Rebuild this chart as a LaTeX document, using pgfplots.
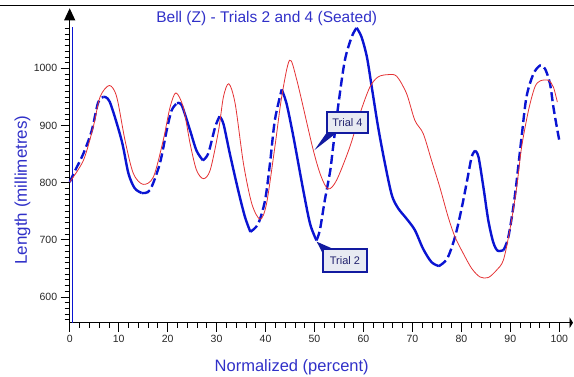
\documentclass[border=0pt]{standalone}
\usepackage{fontspec}
\setmainfont{Liberation Sans}
\usepackage{pgfplots}
\pgfplotsset{compat=1.18}
\usetikzlibrary{arrows.meta}
\definecolor{tblue}{RGB}{10,20,210}
\definecolor{tred}{RGB}{228,50,52}
\definecolor{labblue}{RGB}{48,48,200}
\definecolor{boxblue}{RGB}{18,26,160}
\definecolor{boxfill}{RGB}{232,234,242}
\definecolor{boxtext}{RGB}{34,34,110}
\begin{document}
\begin{tikzpicture}
\path[use as bounding box] (-69.7pt,-54.3pt) rectangle (504.3pt,322.7pt);
\draw[black, line width=0.8pt] (-69.7pt,317.7pt) -- (504.3pt,317.7pt);
\begin{axis}[
  scale only axis, width=503.3pt, height=314.4pt,
  at={(0pt,0pt)}, anchor=south west,
  xmin=0, xmax=102.8, ymin=555, ymax=1105,
  enlargelimits=false, clip=false,
  axis lines=left,
  x axis line style={black, line width=1pt, -{Triangle[width=11pt,length=3.5pt]}},
  y axis line style={black, line width=1pt, -{Triangle[width=11pt,length=12pt]}},
  xtick={0,10,...,100},
  minor xtick={2,4,6,8,12,14,16,18,22,24,26,28,32,34,36,38,42,44,46,48,52,54,56,58,62,64,66,68,72,74,76,78,82,84,86,88,92,94,96,98},
  ytick={600,700,800,900,1000},
  minor ytick={560,570,...,1070},
  tick align=outside,
  major tick length=9pt, minor tick length=5pt,
  tick style={black, line width=0.7pt},
  /pgf/number format/assume math mode=true,
  /pgf/number format/set thousands separator={},
  tick label style={font=\fontsize{10.5}{12}\selectfont, text=black!85},
]
% blue vertical line next to the axis
\addplot[tblue, line width=0.8pt] coordinates {(0.6,555) (0.6,1073)};
% Blue curve: rising parts dashed, falling parts solid
\pgfplotsset{bdash/.style={tblue, line width=2.4pt, smooth, dash pattern=on 9pt off 4pt},
             bsolid/.style={tblue, line width=2.4pt, smooth}}
\addplot[bdash] coordinates {(0,801)(1.1,821)(2.8,851)(4.5,891)(5.8,940)(6.9,950)};
\addplot[bsolid] coordinates {(6.9,950)(8.2,941)(10.6,874)(12.0,816)(13.3,790)(14.7,782)};
\addplot[bdash] coordinates {(14.7,782)(16.4,787)(18.4,833)(19.8,891)(20.8,926)(21.9,939)};
\addplot[bsolid] coordinates {(21.9,939)(22.9,935)(24.6,891)(25.9,856)(27.2,839)};
\addplot[bdash] coordinates {(27.2,839)(28.3,851)(29.7,897)(30.6,916)};
\addplot[bsolid] coordinates {(30.6,916)(31.4,903)(32.7,851)(34.4,787)(35.8,740)(36.9,714)};
\addplot[bdash] coordinates {(36.9,714)(38.5,728)(39.9,769)(40.9,833)(41.9,909)(43.3,963)};
\addplot[bsolid] coordinates {(43.3,963)(44.3,938)(45.7,880)(47.7,787)(49.1,728)(50.4,699)};
\addplot[bdash] coordinates {(50.4,699)(51.1,717)(52.1,769)(53.2,820)(53.7,855)(54.9,938)(56.2,1014)(57.6,1055)(58.6,1071)};
\addplot[bsolid] coordinates {(58.6,1071)(59.6,1055)(60.7,1020)(61.7,967)(63.0,897)(64.4,833)(65.8,778)(67.1,755)(68.8,737)(70.5,717)(72.2,684)(73.9,661)(75.4,654)};
\addplot[bdash] coordinates {(75.4,654)(77.1,667)(78.7,705)(80.1,757)(81.2,805)(82.1,845)(82.8,856)};
\addplot[bsolid] coordinates {(82.8,856)(83.5,845)(84.5,792)(85.5,734)(86.5,696)(87.4,681)(88.6,682)};
\addplot[bdash] coordinates {(88.6,682)(89.6,705)(90.9,775)(92.3,880)(93.3,950)(94.7,990)(96.1,1005)(97.1,999)(98.1,973)(98.8,932)(99.5,897)(100,874)};
% Red curve
\addplot[tred, line width=0.8pt, smooth] coordinates {
(0,801)(2.8,839)(4.8,897)(6.2,950)(8.1,970)(9.6,950)(11.3,874)(13.0,816)(15.0,797)
(17.1,810)(19.1,874)(20.5,932)(21.7,957)(23.2,932)(24.6,868)(25.9,822)(27.3,807)
(28.7,822)(30.4,891)(31.4,950)(32.5,973)(33.8,938)(35.5,833)(37.2,763)(38.9,736)
(40.2,763)(41.9,862)(43.3,950)(44.9,1014)(46.4,979)(49.6,862)(51.3,812)(52.8,789)
(54.5,804)(57.2,862)(59.3,921)(61.3,967)(63.0,985)(65.1,989)(66.8,986)(68.8,956)
(70.5,909)(72.2,886)(73.9,839)(75.6,792)(77.3,740)(78.7,705)(80.4,676)(82.1,650)
(83.8,635)(85.5,634)(87.2,647)(88.6,665)(90.0,722)(91.3,792)(92.3,862)(93.7,926)
(95.0,967)(96.1,978)(97.8,979)(98.8,967)(99.6,941)};
% callouts
\fill[boxblue] (axis cs:52.4,886.3) -- (axis cs:54.4,886.3) -- (axis cs:50.0,857) -- cycle;
\node[draw=boxblue, line width=2.2pt, fill=boxfill, text=boxtext, font=\fontsize{11}{12}\selectfont,
      minimum width=41.6pt, minimum height=21.6pt, inner sep=0pt] at (axis cs:56.74,905.2) {Trial 4};
\fill[boxblue] (axis cs:50.45,696.7) -- (axis cs:54.0,683.4) -- (axis cs:51.8,674) -- cycle;
\node[draw=boxblue, line width=2.2pt, fill=boxfill, text=boxtext, font=\fontsize{11}{12}\selectfont,
      minimum width=43.4pt, minimum height=22.4pt, inner sep=0pt] at (axis cs:56.23,663.8) {Trial 2};
\end{axis}
\node[text=labblue, font=\fontsize{15.5}{18}\selectfont] at (197pt,304.4pt) {Bell (Z) - Trials 2 and 4 (Seated)};
\node[text=labblue, font=\fontsize{16.5}{19}\selectfont] at (222pt,-44.3pt) {Normalized (percent)};
\node[text=labblue, font=\fontsize{17}{19}\selectfont, rotate=90] at (-47.2pt,132.7pt) {Length (millimetres)};
\end{tikzpicture}
\end{document}
